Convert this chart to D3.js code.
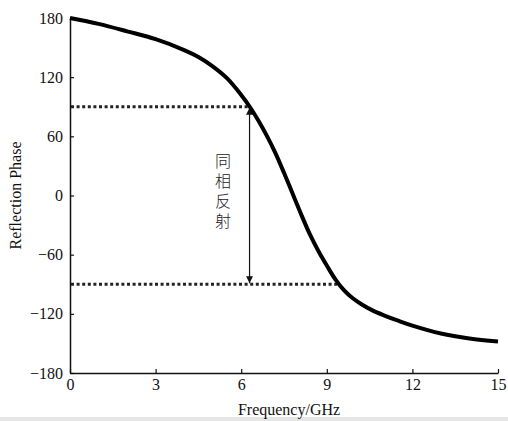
<!DOCTYPE html>
<html>
<head>
<meta charset="utf-8">
<script src="https://cdn.jsdelivr.net/npm/d3@7"></script>
<style>
body { margin: 0; background: #fff; }
text { font-family: "Liberation Serif", "Times New Roman", serif; }
</style>
</head>
<body>
<div id="contents"></div>
<script>
// curve
var freq  = [0, 1, 2, 3, 4, 4.5, 5, 5.5, 6, 6.3, 6.6, 6.9, 7.2, 7.5, 7.8, 8.1, 8.4, 8.7, 9, 9.3, 9.6, 9.9, 10.2, 10.6, 11, 11.5, 12, 13, 14, 15];
var phase = [180, 174, 166.5, 158.5, 147.5, 140.5, 131, 119, 102, 90, 76, 60.5, 43, 23, 2, -19, -39, -56, -71, -85, -96, -104, -110, -116.5, -121.5, -127, -132, -140, -145, -148];

var xTicks = [0, 3, 6, 9, 12, 15];
var yTicks = [-180, -120, -60, 0, 60, 120, 180];

// in-phase band
var bandTop = 90, bandBottom = -90;
var bandTopEnd = 6.31, bandBottomEnd = 9.36;
var bandLabel = "同相反射";

var W = 508, H = 421;
var m = {left: 70, right: 10, top: 18, bottom: 48};

var svg = d3.select("#contents").append("svg")
	.attr("width", W)
	.attr("height", H);

svg.append("rect").attr("width", W).attr("height", H).attr("fill", "#fff");
svg.append("rect").attr("x", 0).attr("y", 417).attr("width", W).attr("height", 4).attr("fill", "#e6e6e6");

var x = d3.scaleLinear().domain([0, 15]).range([m.left, W - m.right]);
var y = d3.scaleLinear().domain([-180, 180]).range([H - m.bottom, m.top]);

var fmt = function(d) { return d < 0 ? "\u2212" + Math.abs(d) : "" + d; };

var gx = svg.append("g")
	.attr("transform", "translate(0," + y(-180) + ")")
	.call(d3.axisBottom(x).tickValues(xTicks).tickSizeInner(-4).tickSizeOuter(0).tickPadding(6));
var gy = svg.append("g")
	.attr("transform", "translate(" + x(0) + ",0)")
	.call(d3.axisLeft(y).tickValues(yTicks).tickFormat(fmt).tickSizeInner(-4).tickSizeOuter(0).tickPadding(7));

[gx, gy].forEach(function(g) {
	g.select(".domain").attr("stroke", "#111").attr("stroke-width", 1.5);
	g.selectAll(".tick line").attr("stroke", "#111").attr("stroke-width", 1.2);
	g.selectAll(".tick text")
		.attr("fill", "#111")
		.style("font-size", "16px")
		.style("font-family", "'Liberation Serif', 'Times New Roman', serif");
});

svg.append("text")
	.attr("x", x(7.5) + 5)
	.attr("y", 409)
	.attr("dy", "0.35em")
	.attr("text-anchor", "middle")
	.attr("fill", "#111")
	.style("font-size", "16px")
	.text("Frequency/GHz");

svg.append("text")
	.attr("transform", "translate(15," + y(0) + ") rotate(-90)")
	.attr("dy", "0.35em")
	.attr("text-anchor", "middle")
	.attr("fill", "#111")
	.style("font-size", "16px")
	.text("Reflection Phase");

// dotted guide lines
var guides = [[bandTop, bandTopEnd], [bandBottom, bandBottomEnd]];
svg.selectAll("line.guide")
	.data(guides)
	.enter()
	.append("line")
	.attr("class", "guide")
	.attr("x1", x(0) + 1)
	.attr("x2", function(d) { return x(d[1]); })
	.attr("y1", function(d) { return y(d[0]); })
	.attr("y2", function(d) { return y(d[0]); })
	.attr("stroke", "#222")
	.attr("stroke-width", 3)
	.attr("stroke-dasharray", "3,2.6");

// double arrow
var defs = svg.append("defs");
defs.append("marker")
	.attr("id", "head")
	.attr("viewBox", "0 0 10 10")
	.attr("refX", 10)
	.attr("refY", 5)
	.attr("markerUnits", "userSpaceOnUse")
	.attr("markerWidth", 11)
	.attr("markerHeight", 7)
	.attr("orient", "auto-start-reverse")
	.append("path")
	.attr("d", "M0,0 L10,5 L0,10 z")
	.attr("fill", "#111");

svg.append("line")
	.attr("x1", x(bandTopEnd) - 0.5)
	.attr("x2", x(bandTopEnd) - 0.5)
	.attr("y1", y(bandTop) + 1)
	.attr("y2", y(bandBottom) - 1)
	.attr("stroke", "#111")
	.attr("stroke-width", 1.2)
	.attr("marker-start", "url(#head)")
	.attr("marker-end", "url(#head)");

// vertical label, one text element
svg.append("text")
	.attr("x", 223)
	.attr("y", 153)
	.attr("fill", "#222")
	.style("writing-mode", "vertical-rl")
	.style("letter-spacing", "4px")
	.style("font-family", "'Noto Sans CJK SC', sans-serif")
	.style("font-weight", 300)
	.style("font-size", "16px")
	.text(bandLabel);

// phase curve
var pts = freq.map(function(f, i) { return [f, phase[i]]; });
var line = d3.line()
	.x(function(d) { return x(d[0]); })
	.y(function(d) { return y(d[1]); })
	.curve(d3.curveCatmullRom.alpha(0.5));

svg.append("path")
	.datum(pts)
	.attr("d", line)
	.attr("fill", "none")
	.attr("stroke", "#000")
	.attr("stroke-width", 4)
	.attr("stroke-linecap", "butt");
</script>
</body>
</html>
